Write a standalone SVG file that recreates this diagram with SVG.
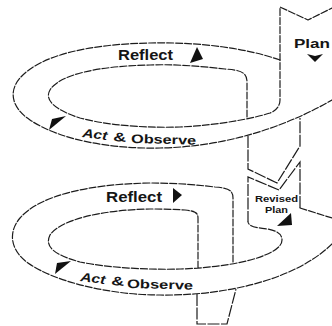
<svg xmlns="http://www.w3.org/2000/svg" width="332" height="326" viewBox="0 0 332 326">
<style>
.ln{fill:none;stroke:#1c1c1c;stroke-width:1.2;stroke-dasharray:7 2;stroke-linecap:round;stroke-linejoin:round}
.sl{fill:none;stroke:#1c1c1c;stroke-width:1.2;stroke-dasharray:12 1.5}
.t{font-family:"Liberation Sans",Arial,sans-serif;font-weight:bold;fill:#151515}
.ar{fill:#111}
</style>
<rect width="332" height="326" fill="#fff"/>
<g id="connectors">
<path class="ln" d="M280,60 C240,46 190,42 150,43 C90,44 40,55 20,78 C8,92 12,108 30,120 C60,140 110,149 160,148 C220,147 280,130 332,100"/>
<path class="ln" d="M247,117 L247,82 C247,72 240,70 225,69 C200,66 170,64 150,65 C100,66 60,74 50,90 C44,100 55,110 80,118 C110,126 150,128 180,127 C220,125 255,118 270,113 C278,110 280,104 280,100 L280,7 L308,20 L332,8"/>
<path class="sl" d="M248,136 L248,169 L277,183 L300,146 L300,118"/>
<path class="sl" d="M300,208 L300,162 L279,190 L248,177 L248,222"/>
<path class="ln" d="M300,208 L332,218"/>
<path class="ln" d="M198,268 L198,218 C198,212 194,211 185,210 C170,209 160,209 150,209 C100,210 60,220 50,235 C44,247 55,255 80,262 C110,268 150,270 180,269 C215,268 250,262 265,255 C275,251 282,246 282,240 C282,234 277,231 268,229 C258,228 249,227 248,222"/>
<path class="ln" d="M233,262 L233,198 C233,190 228,188 215,187 C190,184 170,183 150,183 C90,184 40,195 20,218 C8,232 10,250 28,263 C55,282 110,295 160,295 C225,296 295,280 332,244"/>
<path class="sl" d="M197,294 L197,324 L227,324 L236,289"/>
</g>
<g id="plan">
<text class="t" x="294" y="48" font-size="12" textLength="36" lengthAdjust="spacingAndGlyphs">Plan</text>
<polygon class="ar" points="307,54 315,56 323,54 315,62"/>
</g>
<g id="reflect1">
<text class="t" x="118" y="60" font-size="14" textLength="55" lengthAdjust="spacingAndGlyphs">Reflect</text>
<polygon class="ar" points="197,47 203,59 190,63"/>
</g>
<g id="act1">
<polygon class="ar" points="52,119 66,116 49,130"/>
<text class="t" x="82" y="137" font-size="12.5" font-style="italic" textLength="25" lengthAdjust="spacingAndGlyphs" transform="rotate(7 82 137)">Act</text>
<text class="t" x="113" y="141" font-size="12.5" textLength="13" lengthAdjust="spacingAndGlyphs" transform="rotate(4 113 141)">&amp;</text>
<text class="t" x="131" y="143" font-size="12.5" textLength="65" lengthAdjust="spacingAndGlyphs" transform="rotate(1.5 131 143)">Observe</text>
</g>
<g id="revised-plan">
<text class="t" x="255" y="202" font-size="8.8" textLength="43" lengthAdjust="spacingAndGlyphs">Revised</text>
<text class="t" x="265" y="212.5" font-size="8.8" textLength="23" lengthAdjust="spacingAndGlyphs">Plan</text>
<polygon class="ar" points="291,213 292,225 277,226"/>
</g>
<g id="reflect2">
<text class="t" x="106" y="202" font-size="14" textLength="56" lengthAdjust="spacingAndGlyphs">Reflect</text>
<polygon class="ar" points="173,188 173,203 182,195"/>
</g>
<g id="act2">
<polygon class="ar" points="57,263 71,261 55,274"/>
<text class="t" x="80" y="281" font-size="12.5" font-style="italic" textLength="25" lengthAdjust="spacingAndGlyphs" transform="rotate(7 80 281)">Act</text>
<text class="t" x="111" y="285" font-size="12.5" textLength="13" lengthAdjust="spacingAndGlyphs" transform="rotate(4 111 285)">&amp;</text>
<text class="t" x="127" y="288" font-size="12.5" textLength="66" lengthAdjust="spacingAndGlyphs" transform="rotate(1.5 127 288)">Observe</text>
</g>
</svg>
